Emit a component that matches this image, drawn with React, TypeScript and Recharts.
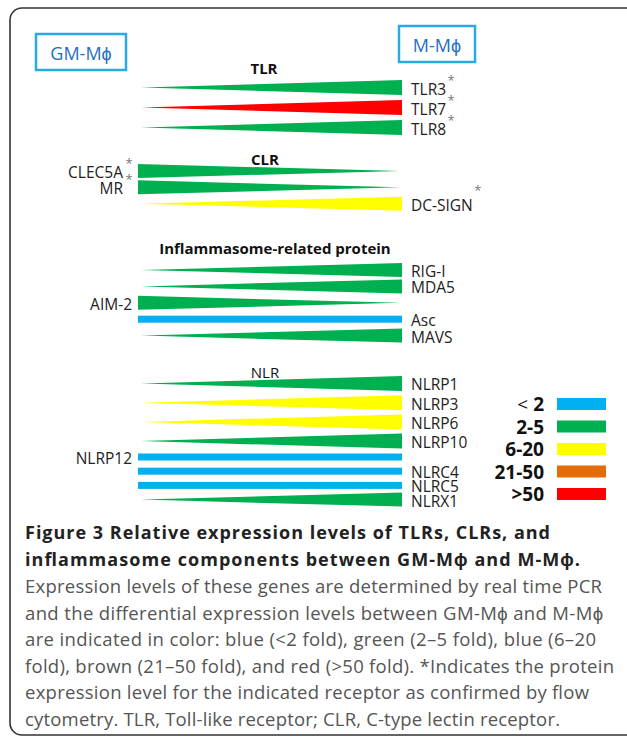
import { Bar, BarChart, XAxis, YAxis } from "recharts";

// fold-change classes and their colours
const foldClasses = ["<2", "2-5", "6-20", "21-50", ">50"];
const foldLabels = ["2", "2-5", "6-20", "21-50", ">50"];
const foldColors = ["#00b0f0", "#00b050", "#ffff00", "#e46c0a", "#ff0000"];

// TLR
const tlrGenes = ["TLR3", "TLR7", "TLR8"];
const tlrFold = ["2-5", ">50", "2-5"];
const tlrHigherIn = ["M", "M", "M"];
const tlrLabelSide = ["right", "right", "right"];
const tlrFlow = [true, true, true];

// CLR
const clrGenes = ["CLEC5A", "MR", "DC-SIGN"];
const clrFold = ["2-5", "2-5", "6-20"];
const clrHigherIn = ["GM", "GM", "M"];
const clrLabelSide = ["left", "left", "right"];
const clrFlow = [true, true, true];

// inflammasome-related protein
const inflGenes = ["RIG-I", "MDA5", "AIM-2", "Asc", "MAVS"];
const inflFold = ["2-5", "2-5", "2-5", "<2", "2-5"];
const inflHigherIn = ["M", "M", "GM", "equal", "M"];
const inflLabelSide = ["right", "right", "left", "right", "right"];
const inflFlow = [false, false, false, false, false];

// NLR
const nlrGenes = ["NLRP1", "NLRP3", "NLRP6", "NLRP10", "NLRP12", "NLRC4", "NLRC5", "NLRX1"];
const nlrFold = ["2-5", "6-20", "6-20", "2-5", "<2", "<2", "<2", "2-5"];
const nlrHigherIn = ["M", "M", "M", "M", "equal", "equal", "equal", "M"];
const nlrLabelSide = ["right", "right", "right", "right", "left", "right", "right", "right"];
const nlrFlow = [false, false, false, false, false, false, false, false];

// every wedge spans the full GM-Mϕ -> M-Mϕ axis
const SPAN = 1;

const captionBold = [
  "Figure 3 Relative expression levels of TLRs, CLRs, and",
  "inflammasome components between GM-Mϕ and M-Mϕ.",
];
const captionText = [
  "Expression levels of these genes are determined by real time PCR",
  "and the differential expression levels between GM-Mϕ and M-Mϕ",
  "are indicated in color: blue (<2 fold), green (2–5 fold), blue (6–20",
  "fold), brown (21–50 fold), and red (>50 fold). *Indicates the protein",
  "expression level for the indicated receptor as confirmed by flow",
  "cytometry. TLR, Toll-like receptor; CLR, C-type lectin receptor.",
];
// right ends of the caption lines
const boldEnds = [550, 580];
const textEnds = [602, 603, 596, 614, 589, 560];

const FONT = "'Open Sans', sans-serif";
const LABEL_SIZE = 15.5;
const X0 = 138;
const X1 = 402;
const PAD = 12;

const colorOf = (fold: string) => foldColors[foldClasses.indexOf(fold)];

let ctx: CanvasRenderingContext2D | null = null;
function textWidth(s: string) {
  if (!ctx) ctx = document.createElement("canvas").getContext("2d");
  if (!ctx) return s.length * 8.5;
  ctx.font = `${LABEL_SIZE}px 'Open Sans'`;
  return ctx.measureText(s).width;
}

function Wedge(props: any) {
  const { x, y, width, height, payload } = props;
  const cy = y + height / 2;
  const right = x + width;
  let shape;
  if (payload.higher === "M") {
    shape = <polygon points={`${x + 3},${cy} ${right},${y} ${right},${y + height}`} fill={payload.color} />;
  } else if (payload.higher === "GM") {
    shape = <polygon points={`${x},${y} ${x},${y + height} ${right - 2},${cy}`} fill={payload.color} />;
  } else {
    shape = <rect x={x} y={cy - 3.5} width={width} height={7} fill={payload.color} />;
  }
  const left = payload.side === "left";
  const lx = left ? x - (payload.flow ? 15 : 6) : right + 9;
  return (
    <g>
      {shape}
      <text
        x={lx}
        y={cy + 1}
        textAnchor={left ? "end" : "start"}
        dominantBaseline="central"
        fontFamily={FONT}
        fontSize={LABEL_SIZE}
        fill="#222"
      >
        {payload.gene}
      </text>
      {payload.flow && (
        <text
          x={left ? x - 9 : lx + textWidth(payload.gene) + 5}
          y={payload.gene === "DC-SIGN" ? cy - 9 : cy - 3}
          textAnchor="middle"
          fontFamily={FONT}
          fontSize={13}
          fill="#777"
        >
          *
        </text>
      )}
    </g>
  );
}

function GeneGroup({
  top,
  height,
  genes,
  fold,
  higher,
  side,
  flow,
  barSize,
}: {
  top: number;
  height: number;
  genes: string[];
  fold: string[];
  higher: string[];
  side: string[];
  flow: boolean[];
  barSize: number;
}) {
  const data = genes.map((g, i) => ({
    gene: g,
    span: SPAN,
    color: colorOf(fold[i]),
    higher: higher[i],
    side: side[i],
    flow: flow[i],
  }));
  return (
    <div style={{ position: "absolute", left: 0, top: top - PAD }}>
      <BarChart
        width={627}
        height={height + 2 * PAD}
        data={data}
        layout="vertical"
        margin={{ top: PAD, right: 627 - X1, bottom: PAD, left: X0 }}
      >
        <XAxis type="number" domain={[0, 1]} hide />
        <YAxis type="category" dataKey="gene" hide />
        <Bar dataKey="span" barSize={barSize} shape={Wedge} isAnimationActive={false} />
      </BarChart>
    </div>
  );
}

export default function App() {
  return (
    <div style={{ position: "absolute", left: 0, top: 0, width: 627, height: 739, background: "#fff" }}>
      <svg width={627} height={739} style={{ position: "absolute", left: 0, top: 0 }}>
        <rect x={10} y={8} width={660} height={727} rx={12} fill="none" stroke="#333" strokeWidth={1.6} />
        <rect x={36} y={34} width={90} height={36} fill="none" stroke="#29abe2" strokeWidth={2.5} />
        <text x={81} y={53} textAnchor="middle" dominantBaseline="central" fontFamily={FONT} fontSize={18} fill="#1f6fbf">
          GM-Mϕ
        </text>
        <rect x={399} y={26} width={76} height={36} fill="none" stroke="#29abe2" strokeWidth={2.5} />
        <text x={437} y={45} textAnchor="middle" dominantBaseline="central" fontFamily={FONT} fontSize={18} fill="#1f6fbf">
          M-Mϕ
        </text>
        <text x={264} y={68} textAnchor="middle" dominantBaseline="central" fontFamily={FONT} fontWeight={700} fontSize={15} fill="#111">
          TLR
        </text>
        <text x={265} y={159} textAnchor="middle" dominantBaseline="central" fontFamily={FONT} fontWeight={700} fontSize={15} fill="#111">
          CLR
        </text>
        <text x={275} y={248} textAnchor="middle" dominantBaseline="central" fontFamily={FONT} fontWeight={700} fontSize={15} fill="#111">
          Inflammasome-related protein
        </text>
        <text x={265} y={372} textAnchor="middle" dominantBaseline="central" fontFamily={FONT} fontSize={15} fill="#111">
          NLR
        </text>
        {foldLabels.map((l, i) => (
          <g key={l}>
            <text
              x={544}
              y={404 + i * 22.5}
              textAnchor="end"
              dominantBaseline="central"
              fontFamily={FONT}
              fontWeight={700}
              fontSize={19}
              fill="#111"
            >
              {i === 0 && <tspan fontWeight={400}>{"< "}</tspan>}
              {l}
            </text>
            <rect x={557} y={398 + i * 22.5} width={49} height={12} fill={foldColors[i]} />
          </g>
        ))}
        {captionBold.map((line, i) => (
          <text
            key={line}
            x={25}
            y={539 + i * 26.8}
            fontFamily={FONT}
            fontWeight={700}
            fontSize={18}
            fill="#222"
            textLength={boldEnds[i] - 25}
            lengthAdjust="spacing"
          >
            {line}
          </text>
        ))}
        {captionText.map((line, i) => (
          <text
            key={line}
            x={25}
            y={593 + i * 26.6}
            fontFamily={FONT}
            fontSize={18.5}
            fill="#555"
            textLength={textEnds[i] - 25}
            lengthAdjust="spacing"
          >
            {line}
          </text>
        ))}
      </svg>
      <GeneGroup top={77} height={60} genes={tlrGenes} fold={tlrFold} higher={tlrHigherIn} side={tlrLabelSide} flow={tlrFlow} barSize={15} />
      <GeneGroup top={163} height={49} genes={clrGenes} fold={clrFold} higher={clrHigherIn} side={clrLabelSide} flow={clrFlow} barSize={14} />
      <GeneGroup top={262} height={82} genes={inflGenes} fold={inflFold} higher={inflHigherIn} side={inflLabelSide} flow={inflFlow} barSize={14} />
      <GeneGroup
        top={374.4}
        height={76.8}
        genes={nlrGenes.slice(0, 4)}
        fold={nlrFold.slice(0, 4)}
        higher={nlrHigherIn.slice(0, 4)}
        side={nlrLabelSide.slice(0, 4)}
        flow={nlrFlow.slice(0, 4)}
        barSize={15}
      />
      <GeneGroup
        top={450.4}
        height={56.8}
        genes={nlrGenes.slice(4)}
        fold={nlrFold.slice(4)}
        higher={nlrHigherIn.slice(4)}
        side={nlrLabelSide.slice(4)}
        flow={nlrFlow.slice(4)}
        barSize={14}
      />
    </div>
  );
}
